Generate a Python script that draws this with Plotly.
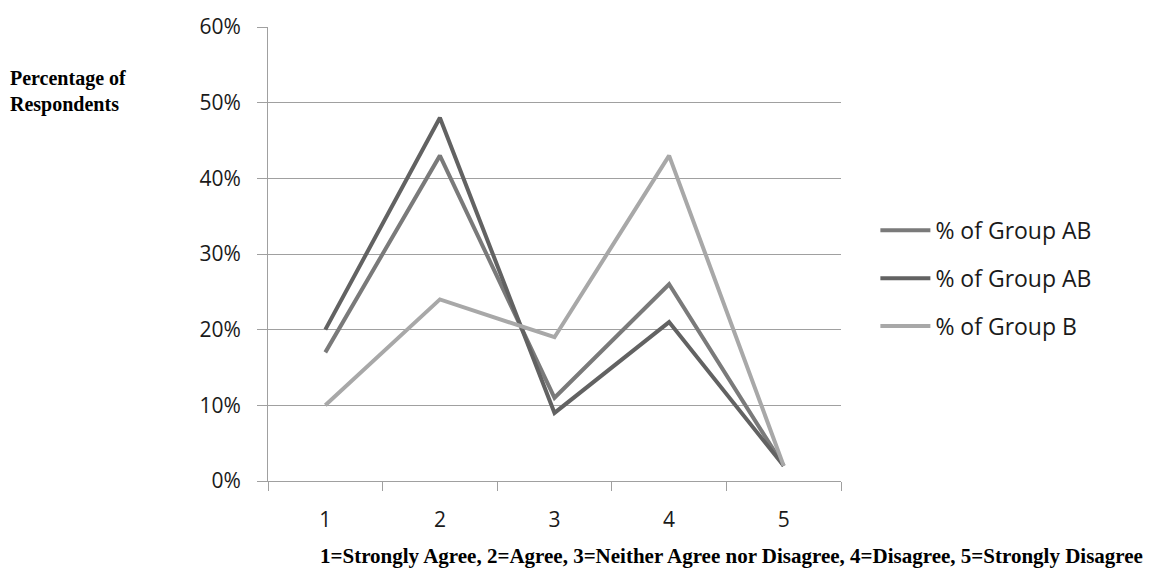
import plotly.graph_objects as go

categories = ["1", "2", "3", "4", "5"]
series_names = ["% of Group AB", "% of Group AB", "% of Group B"]
group_ab_1 = [0.17, 0.43, 0.11, 0.26, 0.02]
group_ab_2 = [0.20, 0.48, 0.09, 0.21, 0.02]
group_b = [0.10, 0.24, 0.19, 0.43, 0.02]
y_ticks = [0, 0.1, 0.2, 0.3, 0.4, 0.5, 0.6]

colors = ["#7a7a7a", "#626262", "#a8a8a8"]
tick_font = dict(family="Open Sans", size=21, color="#1a1a1a")

fig = go.Figure()
for i, (name, vals) in enumerate(zip(series_names, [group_ab_1, group_ab_2, group_b])):
    fig.add_trace(go.Scatter(
        x=categories, y=vals, name=name, mode="lines",
        line=dict(color=colors[i], width=4),
        legendgroup=f"g{i}",
    ))

fig.update_layout(
    width=1167, height=578,
    margin=dict(l=268, r=326, t=20, b=97),
    paper_bgcolor="white", plot_bgcolor="white",
    showlegend=True,
    legend=dict(
        x=1.06, y=0.4465, xanchor="left", yanchor="middle",
        font=dict(family="Open Sans", size=23, color="#1a1a1a"),
        tracegroupgap=15, itemwidth=50,
    ),
    xaxis=dict(
        type="category", tickson="boundaries", range=[-0.5, 4.5],
        showgrid=False, showline=True, linecolor="#a0a0a0", linewidth=1,
        ticks="outside", ticklen=9, tickcolor="#a0a0a0",
        tickfont=tick_font, ticklabelstandoff=20,
    ),
    yaxis=dict(
        range=[0, 0.6], tickvals=y_ticks, tickformat=".0%",
        showgrid=True, gridcolor="#a0a0a0", gridwidth=1,
        showline=True, linecolor="#a0a0a0", linewidth=1,
        ticks="outside", ticklen=10, tickcolor="#a0a0a0",
        tickfont=tick_font, ticklabelstandoff=12, zeroline=False,
    ),
    annotations=[
        dict(text="<b>Percentage of<br>Respondents</b>", xref="paper", yref="paper",
             x=-260/573, y=(481-85)/461, xanchor="left", yanchor="middle",
             align="left", showarrow=False,
             font=dict(family="Liberation Serif", size=20, color="black")),
        dict(text="<b>1=Strongly Agree, 2=Agree, 3=Neither Agree nor Disagree, 4=Disagree, 5=Strongly Disagree</b>",
             xref="paper", yref="paper", x=(318-268)/573, y=-(557-481)/461,
             xanchor="left", yanchor="middle", showarrow=False,
             font=dict(family="Liberation Serif", size=21, color="black")),
    ],
)

fig.write_html("out.html", config={"displayModeBar": False},
               post_script="document.body.style.margin='0';")
